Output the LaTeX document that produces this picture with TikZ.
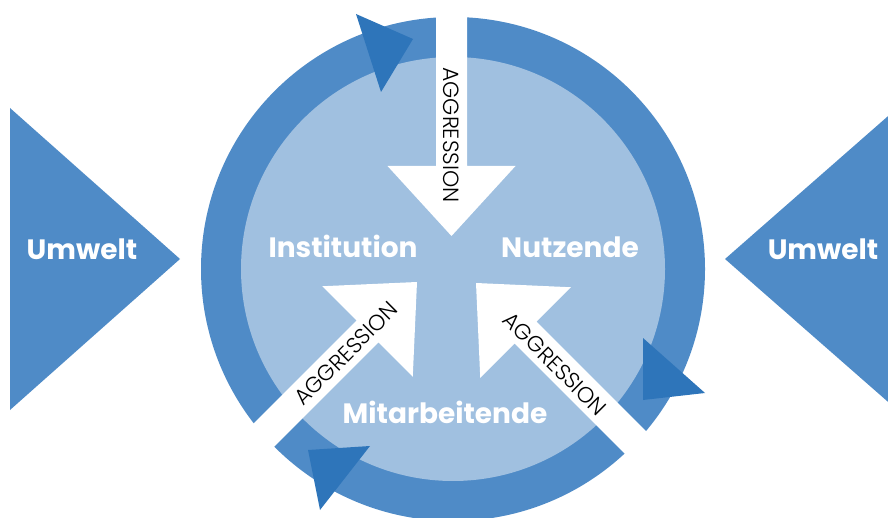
\documentclass[tikz,border=0pt]{standalone}
\usepackage{fontspec}
\setmainfont{Poppins}
\newfontfamily\aggrfont{Poppins Light}
\definecolor{ringblue}{HTML}{4F8BC7}
\definecolor{innerblue}{HTML}{A0C0E0}
\definecolor{turnblue}{HTML}{2E75BA}

\begin{document}
\begin{tikzpicture}[x=1pt,y=-1pt,
  party/.style={text=white,font=\fontsize{28}{30}\selectfont\bfseries,anchor=base},
  aggr/.style={text=black,font=\aggrfont\fontsize{22}{23}\selectfont,inner sep=0pt}]
\useasboundingbox (0,0) rectangle (888,518);
\coordinate (c) at (453,269);

\fill[ringblue] (10,108) -- (180,259) -- (10,410) -- cycle; % umwelt left
\fill[ringblue] (895,110) -- (725,259) -- (895,408) -- cycle; % umwelt right

\fill[ringblue] (c) circle (252pt); % ring
\fill[innerblue] (c) circle (212pt); % inner disc

\begin{scope}[shift={(451.5,236)},rotate=-90] % top arrow
\fill[white] (0,0) -- (-70,64) -- (-70,15.5) -- (-240,15.5) -- (-240,-15.5) -- (-70,-15.5) -- (-70,-64) -- cycle;
\end{scope}
\begin{scope}[shift={(417,282)},rotate=45] % lower left arrow
\fill[white] (0,0) -- (-70,64) -- (-70,15.5) -- (-290,15.5) -- (-290,-15.5) -- (-70,-15.5) -- (-70,-64) -- cycle;
\end{scope}
\begin{scope}[shift={(476,283)},rotate=135] % lower right arrow
\fill[white] (0,0) -- (-70,64) -- (-70,15.5) -- (-290,15.5) -- (-290,-15.5) -- (-70,-15.5) -- (-70,-64) -- cycle;
\end{scope}

\fill[turnblue] (356,14) -- (413,39) -- (381,92) -- cycle; % turn top
\fill[turnblue] (643,338) -- (705,393) -- (643,400) -- cycle; % turn right
\fill[turnblue] (308,450) -- (370,446) -- (320,510) -- cycle; % turn bottom

\node[aggr,rotate=-90] (aggrT) at (451.5,135) {AGGRESSION};
\node[aggr,rotate=45] (aggrL) at (346,353.5) {AGGRESSION};
\node[aggr,rotate=-45] (aggrR) at (555,364) {AGGRESSION};

\node[party] (inst) at (343,258) {Institution};
\node[party] (nutz) at (570,258) {Nutzende};
\node[party] (mitarb) at (445,423) {Mitarbeitende};
\node[party] (umwL) at (82,260) {Umwelt};
\node[party] (umwR) at (823,260) {Umwelt};

\end{tikzpicture}
\end{document}
